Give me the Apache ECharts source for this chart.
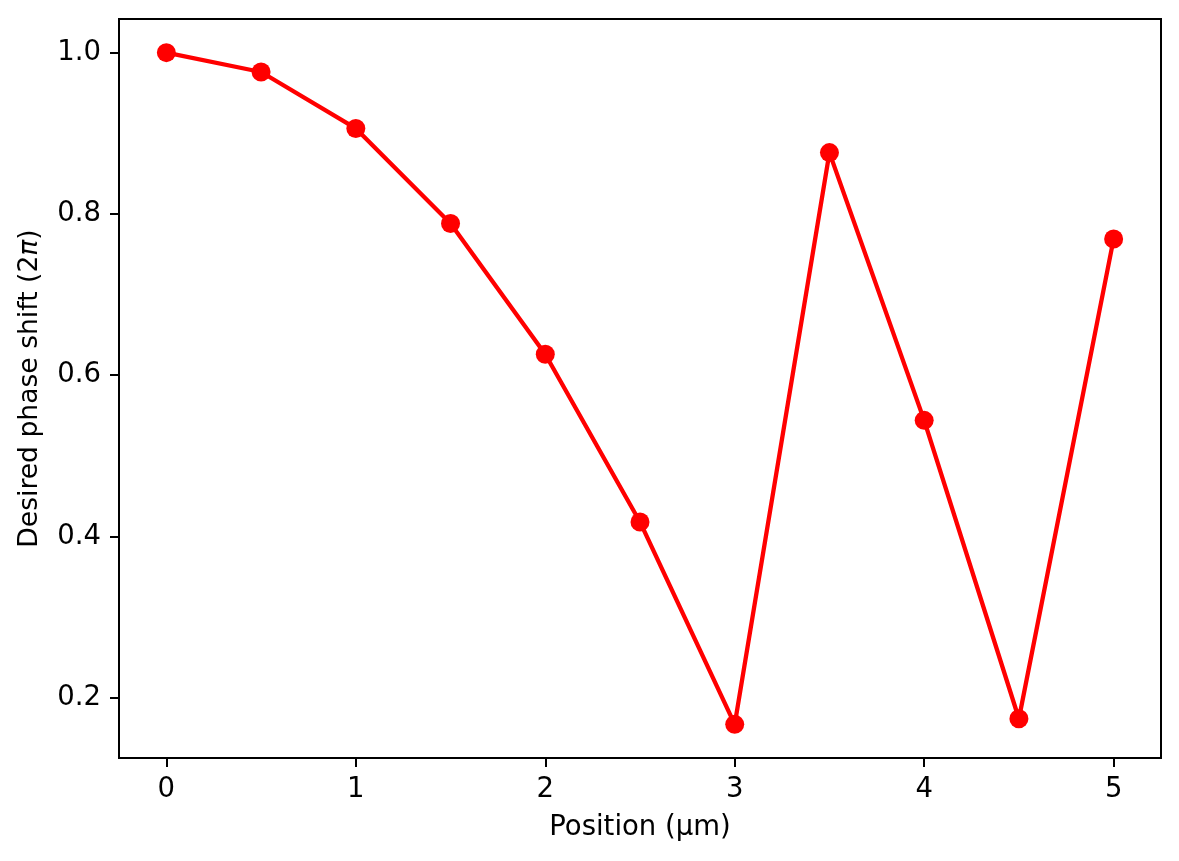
<!DOCTYPE html>
<html>
<head>
<meta charset="utf-8">
<title>Desired phase shift</title>
<script src="https://cdn.jsdelivr.net/npm/echarts@6/dist/echarts.min.js"></script>
<style>
  html, body { margin: 0; padding: 0; background: #fff; }
  #phase-chart { width: 1179px; height: 861px; }
</style>
</head>
<body>
<div id="phase-chart"></div>
<script>
// positions along the lens (µm) and the phase wanted there (units of 2π)
var positions = [0, 0.5, 1, 1.5, 2, 2.5, 3, 3.5, 4, 4.5, 5];
var phaseShift = [1.0, 0.976, 0.906, 0.788, 0.626, 0.418, 0.167, 0.876, 0.544, 0.174, 0.769];
var xTicks = [0, 1, 2, 3, 4, 5];
var yTicks = [0.2, 0.4, 0.6, 0.8, 1.0];

var font = 'DejaVu Sans';
var fs = 27.5;
var yNameFs = 26.6;

var points = positions.map(function (x, i) { return [x, phaseShift[i]]; });

var myChart = echarts.init(document.getElementById('phase-chart'));
myChart.setOption({
    animation: false,
    backgroundColor: '#fff',
    grid: {
        left: 119, right: 18, top: 19, bottom: 103,
        show: true, borderColor: '#000', borderWidth: 2, backgroundColor: 'transparent'
    },
    xAxis: {
        type: 'value',
        min: -0.25,
        max: 5.25,
        name: 'Position (µm)',
        nameLocation: 'middle',
        nameGap: 56,
        nameTextStyle: { color: '#000', fontFamily: font, fontSize: fs },
        axisLine: { show: true, onZero: false, lineStyle: { color: '#000', width: 2 } },
        axisTick: { show: true, inside: false, length: 9, customValues: xTicks,
            lineStyle: { color: '#000', width: 2 } },
        axisLabel: { customValues: xTicks, margin: 18, color: '#000',
            fontFamily: font, fontSize: fs },
        splitLine: { show: false }
    },
    yAxis: {
        type: 'value',
        min: 0.1253,
        max: 1.0417,
        name: '{n|Desired phase shift (2}{i|π}{n|)}',
        nameLocation: 'middle',
        nameGap: 75,
        nameTextStyle: {
            color: '#000', fontFamily: font, fontSize: yNameFs,
            rich: {
                n: { color: '#000', fontFamily: font, fontSize: yNameFs },
                i: { color: '#000', fontFamily: font, fontSize: yNameFs, fontStyle: 'italic' }
            }
        },
        axisLine: { show: true, onZero: false, lineStyle: { color: '#000', width: 2 } },
        axisTick: { show: true, inside: false, length: 9, customValues: yTicks,
            lineStyle: { color: '#000', width: 2 } },
        axisLabel: { customValues: yTicks, margin: 18, color: '#000',
            fontFamily: font, fontSize: fs,
            formatter: function (v) { return v.toFixed(1); } },
        splitLine: { show: false }
    },
    series: [{
        type: 'line',
        data: points,
        color: '#ff0000',
        lineStyle: { color: '#ff0000', width: 4.3 },
        symbol: 'circle',
        symbolSize: 19,
        showAllSymbol: true,
        itemStyle: { color: '#ff0000' },
        z: 3
    }]
});
</script>
</body>
</html>
